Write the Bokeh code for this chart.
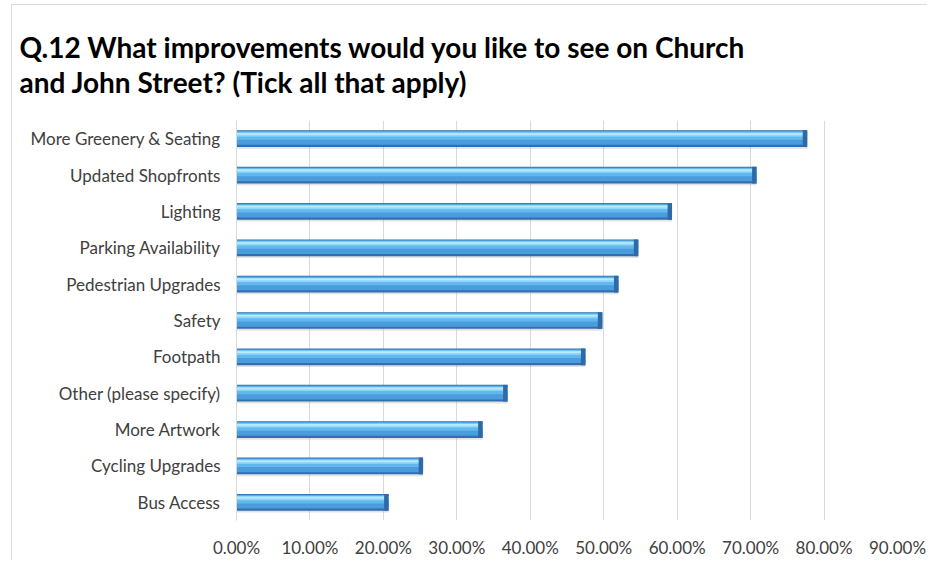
from bokeh.plotting import figure
from bokeh.models import ColumnDataSource, FactorRange, Range1d, NumeralTickFormatter, FixedTicker
from bokeh.transform import dodge
from bokeh.embed import file_html
from bokeh.resources import INLINE

categories = ["More Greenery & Seating", "Updated Shopfronts", "Lighting", "Parking Availability",
              "Pedestrian Upgrades", "Safety", "Footpath", "Other (please specify)",
              "More Artwork", "Cycling Upgrades", "Bus Access"]
values = [0.777, 0.708, 0.593, 0.547, 0.520, 0.498, 0.475, 0.369, 0.335, 0.254, 0.207]
x_ticks = [0.0, 0.1, 0.2, 0.3, 0.4, 0.5, 0.6, 0.7, 0.8, 0.9]

FONT = "Lato"
src = ColumnDataSource(dict(cat=categories, val=values,
                            cap=[v - 0.006 for v in values]))

p = figure(frame_width=661, frame_height=400, output_backend="svg", toolbar_location=None,
           y_range=FactorRange(*categories[::-1], range_padding=0),
           x_range=Range1d(0, 0.9),
           min_border_left=224, min_border_right=30, min_border_top=115, min_border_bottom=34)
p.margin = (4, 0, 0, 11)
p.styles = {"border-left": "1px solid #d9d9d9", "border-top": "1px solid #d9d9d9"}
p.outline_line_color = None

p.title.text = "Q.12 What improvements would you like to see on Church\nand John Street? (Tick all that apply)"
p.title.text_font = FONT
p.title.text_font_size = "28px"
p.title.text_font_style = "bold"
p.title.text_color = "#000000"
p.title.align = "left"
p.title.offset = -217
p.title.text_line_height = 1.04
p.title.standoff = 43

# shadow
p.hbar(y=dodge("cat", -0.05, range=p.y_range), right="val", left=0, height=0.46, source=src,
       fill_color="#9a9a9a", fill_alpha=0.28, line_color=None)
# cylinder-like layers
p.hbar(y=dodge("cat", 0.0, range=p.y_range), right="val", left=0, height=0.46, source=src,
       fill_color="#336fae", line_color=None)
p.hbar(y=dodge("cat", 0.02, range=p.y_range), right="val", left=0, height=0.38, source=src,
       fill_color="#4a9cdc", line_color=None)
p.hbar(y=dodge("cat", 0.08, range=p.y_range), right="val", left=0, height=0.22, source=src,
       fill_color="#62b8ee", line_color=None)
p.hbar(y=dodge("cat", 0.115, range=p.y_range), right="val", left=0, height=0.11, source=src,
       fill_color="#8fd7f8", line_color=None)
p.hbar(y=dodge("cat", 0.13, range=p.y_range), right="val", left=0, height=0.045, source=src,
       fill_color="#b8ecfd", line_color=None)
# darker bevelled end
p.hbar(y=dodge("cat", 0.0, range=p.y_range), right="val", left="cap", height=0.46, source=src,
       fill_color="#2f69a6", line_color=None)

p.xaxis.ticker = FixedTicker(ticks=x_ticks)
p.xaxis.formatter = NumeralTickFormatter(format="0.00%")
p.xaxis.axis_line_color = None
p.xaxis.major_tick_line_color = None
p.xaxis.minor_tick_line_color = None
p.xaxis.major_label_text_font = FONT
p.xaxis.major_label_text_font_size = "17px"
p.xaxis.major_label_text_color = "#404040"
p.xaxis.major_label_standoff = 10

p.yaxis.axis_line_color = "#d9d9d9"
p.yaxis.major_tick_line_color = None
p.yaxis.minor_tick_line_color = None
p.yaxis.major_label_text_font = FONT
p.yaxis.major_label_text_font_size = "17px"
p.yaxis.major_label_text_color = "#404040"
p.yaxis.major_label_standoff = 10

p.xgrid.grid_line_color = "#d9d9d9"
p.ygrid.grid_line_color = None

open("out.html", "w").write(file_html(p, INLINE))
